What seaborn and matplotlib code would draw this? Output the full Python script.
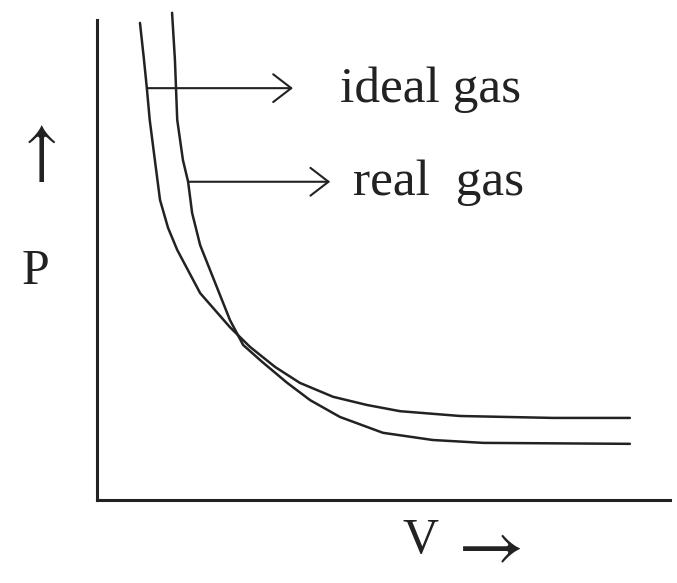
import matplotlib
matplotlib.use("Agg")
import matplotlib.pyplot as plt
import seaborn as sns
import pandas as pd

# hand-drawn P-V isotherms (arbitrary units, axes run 0..10)
ideal_v = [0.75, 0.82, 0.87, 0.92, 1.01, 1.10, 1.24, 1.40, 1.80, 2.32, 2.67, 3.11,
           3.54, 4.12, 4.71, 5.29, 6.34, 7.96, 9.30]
ideal_p = [9.94, 9.17, 8.58, 7.92, 7.08, 6.25, 5.67, 5.21, 4.31, 3.60, 3.19, 2.77,
           2.44, 2.15, 1.98, 1.85, 1.75, 1.71, 1.71]

real_v = [1.31, 1.36, 1.40, 1.50, 1.59, 1.66, 1.80, 2.09, 2.32, 2.55, 2.88, 3.32,
          3.72, 4.24, 4.99, 5.86, 6.74, 9.30]
real_p = [10.15, 9.17, 7.92, 7.08, 6.63, 5.98, 5.31, 4.44, 3.75, 3.23, 2.88, 2.44,
          2.08, 1.73, 1.40, 1.25, 1.19, 1.17]

labels = ["ideal gas", "real  gas"]

df = pd.concat([
    pd.DataFrame({"V": ideal_v, "P": ideal_p, "gas": labels[0]}),
    pd.DataFrame({"V": real_v, "P": real_p, "gas": labels[1]}),
])

sns.set_style("white")
plt.rcParams["font.family"] = ["Liberation Serif", "DejaVu Serif"]
plt.rcParams["mathtext.fontset"] = "stix"

ink = "#222222"
fig = plt.figure(figsize=(6.77, 5.83), dpi=100)
ax = fig.add_axes([97 / 677, 83 / 583, 573 / 677, 480 / 583])

sns.lineplot(data=df, x="V", y="P", hue="gas", palette=[ink, ink], sort=False,
             estimator=None, linewidth=1.8, legend=False, ax=ax, clip_on=False)

ax.set_xlim(0, 10)
ax.set_ylim(0, 10)
ax.set_xticks([])
ax.set_yticks([])
ax.set_xlabel("")
ax.set_ylabel("")
sns.despine(ax=ax)
for side in ["left", "bottom"]:
    ax.spines[side].set_linewidth(2.2)
    ax.spines[side].set_color(ink)

arrow = dict(arrowstyle="->,head_length=1.3,head_width=1.0", color=ink, lw=1.5,
             shrinkA=0, shrinkB=0)
# pointers start on the curves
ax.annotate("", xy=(3.42, ideal_p[2]), xytext=(ideal_v[2], ideal_p[2]), arrowprops=arrow)
ax.annotate("", xy=(4.07, real_p[4]), xytext=(real_v[4], real_p[4]), arrowprops=arrow)
ax.text(4.24, 8.29, labels[0], fontsize=37, color=ink, va="baseline", ha="left")
ax.text(4.47, 6.35, labels[1], fontsize=37, color=ink, va="baseline", ha="left")

# axis captions
fig.text(35 / 677, 1 - 154 / 583, r"$\uparrow$", fontsize=50, color=ink, ha="center", va="center")
fig.text(35 / 677, 1 - 272 / 583, "P", fontsize=36, color=ink, ha="center", va="center")
fig.text(421 / 677, 1 - 541 / 583, "V", fontsize=36, color=ink, ha="center", va="center")
fig.text(484 / 677, 1 - 548 / 583, r"$\rightarrow$", fontsize=52, color=ink, ha="center", va="center")

fig.savefig("out.png", dpi=100, facecolor="white")
